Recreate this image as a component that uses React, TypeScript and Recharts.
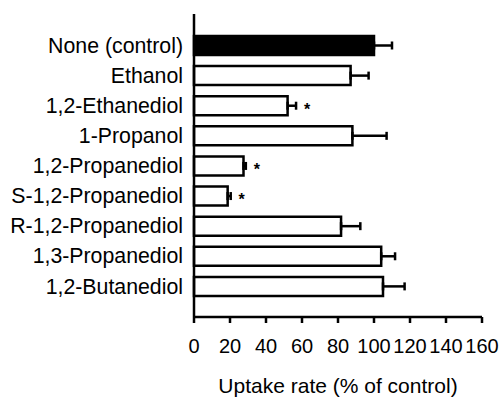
import { Bar, BarChart, Cell, ErrorBar, LabelList, XAxis, YAxis } from "recharts";

const categories = [
  "None (control)",
  "Ethanol",
  "1,2-Ethanediol",
  "1-Propanol",
  "1,2-Propanediol",
  "S-1,2-Propanediol",
  "R-1,2-Propanediol",
  "1,3-Propanediol",
  "1,2-Butanediol",
];
const uptake = [100, 87, 52, 88, 27.5, 18.7, 81.7, 104, 105];
const sem = [10, 10, 4.7, 19, 1.3, 1.7, 10.7, 7.7, 12];
const significant = [false, false, true, false, true, true, false, false, false];
const xTicks = [0, 20, 40, 60, 80, 100, 120, 140, 160];

const rows = categories.map((name, i) => ({
  name,
  uptake: uptake[i],
  err: [0, sem[i]],
  mark: significant[i] ? "*" : "",
}));

const font = "'Liberation Sans', Arial, sans-serif";

// asterisk sits just past the end of the error bar
function Star(props: any) {
  const { x, y, width, height, index, value } = props;
  if (!value) return null;
  const v = uptake[index];
  const tip = Number(x) + (Number(width) * (v + sem[index])) / v;
  return (
    <text x={tip + 11} y={Number(y) + Number(height) / 2 + 9} textAnchor="middle" fontSize={16} fontWeight="bold" fill="#000" fontFamily={font}>
      {value}
    </text>
  );
}

export default function App() {
  return (
    <div style={{ position: "absolute", left: 0, top: 0, background: "#fff" }}>
      <BarChart
        width={499}
        height={399}
        data={rows}
        layout="vertical"
        margin={{ top: 14, right: 17, bottom: 0, left: 0 }}
        style={{ fontFamily: font }}
      >
        <XAxis
          type="number"
          domain={[0, 160]}
          ticks={xTicks}
          interval={0}
          height={82}
          axisLine={{ stroke: "#000", strokeWidth: 2.5 }}
          tickLine={{ stroke: "#000", strokeWidth: 2.5 }}
          tickSize={6}
          tickMargin={16}
          tick={{ fill: "#000", fontSize: 20 }}
          label={{ value: "Uptake rate (% of control)", position: "insideBottom", offset: 6, fill: "#000", fontSize: 21 }}
        />
        <YAxis
          type="category"
          dataKey="name"
          width={194}
          padding={{ top: 16, bottom: 16 }}
          axisLine={{ stroke: "#000", strokeWidth: 2.5 }}
          tickLine={false}
          tickSize={6}
          tickMargin={5}
          interval={0}
          tick={{ fill: "#000", fontSize: 21.3 }}
        />
        <Bar dataKey="uptake" barSize={19} fill="#fff" stroke="#000" strokeWidth={2.5} isAnimationActive={false}>
          {rows.map((r, i) => (
            <Cell key={r.name} fill={i === 0 ? "#000" : "#fff"} />
          ))}
          <ErrorBar dataKey="err" direction="x" width={4} stroke="#000" strokeWidth={2.5} />
          <LabelList dataKey="mark" content={Star} />
        </Bar>
      </BarChart>
    </div>
  );
}
